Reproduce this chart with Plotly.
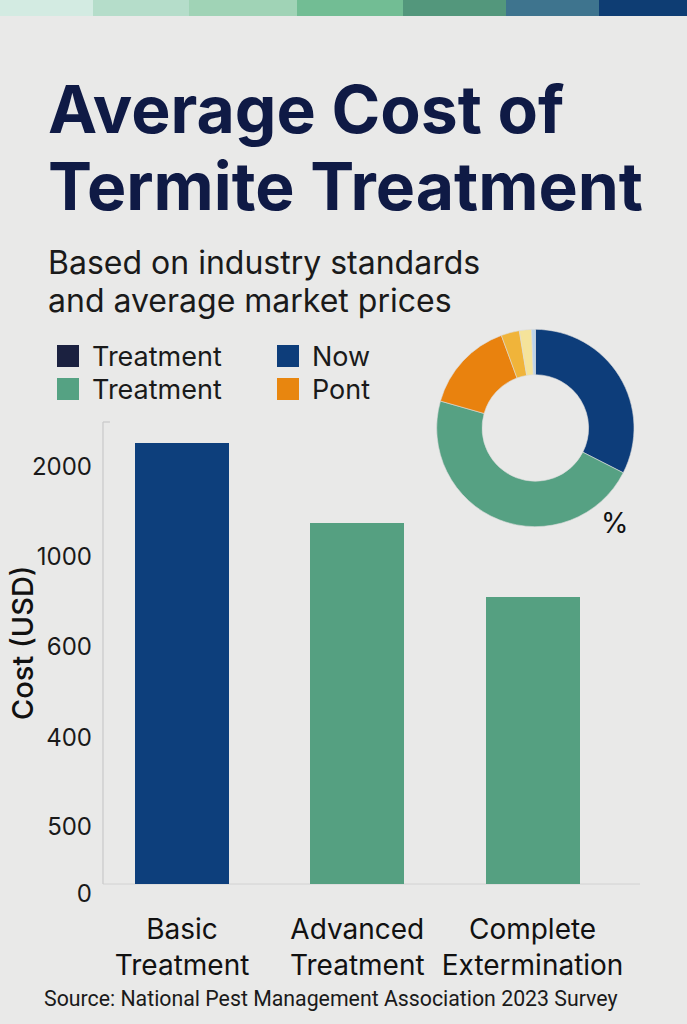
import plotly.graph_objects as go

# ---------------- data ----------------
categories = ["Basic Treatment", "Advanced Treatment", "Complete Extermination"]
costs = [2205, 1805, 1435]            # bar heights in axis units
bar_colors = ["#0d3f7c", "#55a081", "#55a081"]

ytick_vals = [2085, 1635, 1185, 730, 285, -50]
ytick_text = ["2000", "1000", "600", "400", "500", "0"]

legend_labels = ["Treatment", "Now", "Treatment", "Pont"]
legend_colors = ["#1b2140", "#0d3d7a", "#55a283", "#e8860f"]

donut_labels = ["A", "B", "C", "D", "E", "F"]
donut_values = [32.5, 46.9, 15.0, 3.0, 2.0, 0.6]
donut_colors = ["#0d3d7a", "#56a183", "#e9820e", "#f0b43a", "#f5e39a", "#b9d3ec"]

stripe_colors = ["#d3ebe2", "#b5ddca", "#a0d3b6", "#72bd94", "#53977c", "#3e748e", "#0e3d73"]
stripe_edges = [0, 93, 189, 297, 403, 506, 599, 687]

W, H = 687, 1024
BG = "#e9e9e8"
FONT = "Inter"


def px(x):
    return x / W


def py(y):
    return 1 - y / H


fig = go.Figure()

fig.add_trace(go.Bar(
    x=categories, y=costs, marker_color=bar_colors, marker_line_width=0,
    width=0.536, showlegend=False, hoverinfo="skip",
))

fig.add_trace(go.Pie(
    labels=donut_labels, values=donut_values, hole=0.54, sort=False,
    direction="clockwise", rotation=0, textinfo="none", showlegend=False,
    marker=dict(colors=donut_colors, line=dict(color="#dcdcdc", width=0.6)),
    domain=dict(x=[px(436.7), px(634)], y=[py(526.7), py(329.3)]),
    hoverinfo="skip",
))

shapes = []
# top colour stripe
for i, c in enumerate(stripe_colors):
    shapes.append(dict(type="rect", xref="paper", yref="paper",
                       x0=px(stripe_edges[i]), x1=px(stripe_edges[i + 1]),
                       y0=py(16), y1=1, fillcolor=c, line_width=0, layer="above"))
# axis lines
shapes.append(dict(type="line", xref="x domain", yref="y", x0=0, x1=0,
                   y0=0, y1=2310, line=dict(color="#c9c9c9", width=1.2)))
shapes.append(dict(type="line", xref="x domain", yref="y domain", x0=0, x1=0.013,
                   y0=1, y1=1, line=dict(color="#c9c9c9", width=1.2)))
shapes.append(dict(type="line", xref="x domain", yref="y", x0=0, x1=1,
                   y0=0, y1=0, line=dict(color="#d2d2d2", width=1), layer="below"))

annotations = []
# title
annotations.append(dict(text="Average Cost of", x=px(46), y=py(109), xref="paper", yref="paper",
                        xanchor="left", yanchor="middle", showarrow=False,
                        font=dict(family=FONT, size=66, color="#0f1a45", weight=700)))
annotations.append(dict(text="Termite Treatment", x=px(46), y=py(186), xref="paper", yref="paper",
                        xanchor="left", yanchor="middle", showarrow=False,
                        font=dict(family=FONT, size=66, color="#0f1a45", weight=700)))
# subtitle
for txt, yy in [("Based on industry standards", 262), ("and average market prices", 300)]:
    annotations.append(dict(text=txt, x=px(46), y=py(yy), xref="paper", yref="paper",
                            xanchor="left", yanchor="middle", align="left", showarrow=False,
                            font=dict(family=FONT, size=32, color="#1a1a1a")))

# legend (drawn)
leg_pos = [(57, 356), (277, 356), (57, 389), (277, 389)]
for (lx, ly), lab, col in zip(leg_pos, legend_labels, legend_colors):
    shapes.append(dict(type="rect", xref="paper", yref="paper",
                       x0=px(lx), x1=px(lx + 22), y0=py(ly + 11), y1=py(ly - 11),
                       fillcolor=col, line_width=0))
    annotations.append(dict(text=lab, x=px(lx + 33), y=py(ly), xref="paper", yref="paper",
                            xanchor="left", yanchor="middle", showarrow=False,
                            font=dict(family=FONT, size=27, color="#1a1a1a")))

# y axis title
annotations.append(dict(text="Cost (USD)", x=px(22), y=py(643), xref="paper", yref="paper",
                        textangle=-90, showarrow=False, xanchor="center", yanchor="middle",
                        font=dict(family=FONT, size=29, color="#111111", weight=500)))
# percent sign
annotations.append(dict(text="%", x=px(615), y=py(523), xref="paper", yref="paper",
                        xanchor="center", yanchor="middle",
                        showarrow=False, font=dict(family=FONT, size=28, color="#111111")))
# source
annotations.append(dict(text="Source: National Pest Management Association 2023 Survey",
                        x=px(331), y=py(998), xref="paper", yref="paper", showarrow=False,
                        xanchor="center", yanchor="middle",
                        font=dict(family="Roboto", size=21.3, color="#1a1a1a")))

fig.update_layout(
    width=W, height=H,
    margin=dict(l=0, r=0, t=0, b=0),
    paper_bgcolor=BG, plot_bgcolor=BG,
    shapes=shapes, annotations=annotations,
    bargap=0,
    xaxis=dict(
        domain=[px(103), px(640)], range=[-0.451, 2.613],
        tickvals=categories, ticktext=[c.replace(" ", "<br>", 1) for c in categories],
        tickfont=dict(family=FONT, size=28, color="#111111"),
        showline=False, showgrid=False, zeroline=False, ticks="",
        ticklabelstandoff=12, automargin=False,
    ),
    yaxis=dict(
        domain=[py(898), py(422)], range=[-70, 2310],
        tickvals=ytick_vals, ticktext=ytick_text,
        tickfont=dict(family=FONT, size=24, color="#1a1a1a"),
        showline=False, showgrid=False, zeroline=False, ticks="",
        ticklabelstandoff=10, automargin=False,
    ),
)

fig.write_html(
    "out.html",
    config={"displayModeBar": False},
    post_script="document.body.style.margin='0px';document.body.style.padding='0px';"
                "document.body.style.overflow='hidden';",
)
